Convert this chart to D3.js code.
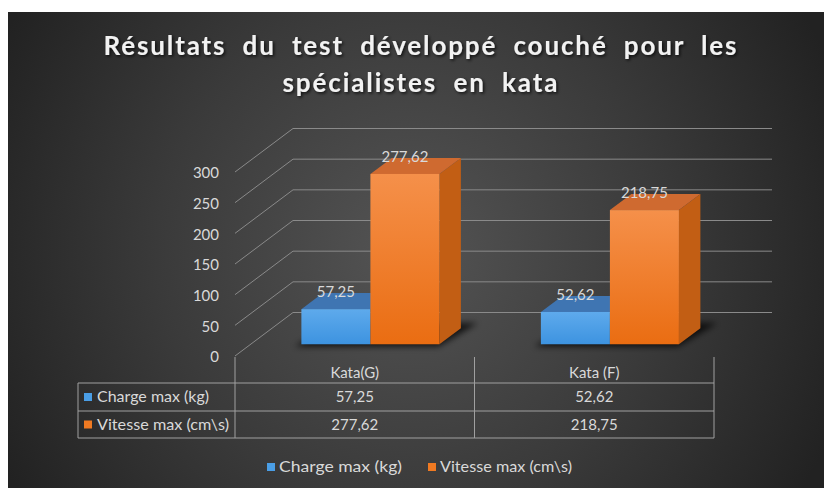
<!DOCTYPE html>
<html>
<head>
<meta charset="utf-8">
<script src="https://cdn.jsdelivr.net/npm/d3@7"></script>
<style>
  html, body { margin: 0; padding: 0; background: #ffffff; }
  svg { display: block; }
  text { font-family: Lato, "Open Sans", "Noto Sans", sans-serif; }
</style>
</head>
<body>
<div id="chart"></div>
<script>
// ---------- data ----------
const titleLines = ["Résultats du test développé couché pour les", "spécialistes en kata"];
const categories = ["Kata(G)", "Kata (F)"];
const seriesNames = ["Charge max (kg)", "Vitesse max (cm\\s)"];
const chargeMax = [57.25, 52.62];
const vitesseMax = [277.62, 218.75];
const yTicks = [0, 50, 100, 150, 200, 250, 300];
const seriesColors = ["#4a9ee6", "#f07a22"];

// ---------- setup ----------
const W = 824, H = 488;
const svg = d3.select("#chart").append("svg").attr("width", W).attr("height", H);
const defs = svg.append("defs");

const bg = defs.append("radialGradient").attr("id", "bg")
  .attr("gradientUnits", "userSpaceOnUse").attr("cx", 410).attr("cy", 250).attr("r", 460);
bg.append("stop").attr("offset", "0%").attr("stop-color", "#545454");
bg.append("stop").attr("offset", "55%").attr("stop-color", "#3a3a3a");
bg.append("stop").attr("offset", "100%").attr("stop-color", "#222222");

const ts = defs.append("filter").attr("id", "tshadow").attr("x", "-10%").attr("y", "-30%").attr("width", "120%").attr("height", "160%");
ts.append("feDropShadow").attr("dx", 1.5).attr("dy", 1.5).attr("stdDeviation", 1.5)
  .attr("flood-color", "#000").attr("flood-opacity", 0.75);

const blur = defs.append("filter").attr("id", "blur").attr("x", "-20%").attr("y", "-50%").attr("width", "140%").attr("height", "200%");
blur.append("feGaussianBlur").attr("stdDeviation", 3);

function vgrad(id, c1, c2) {
  const g = defs.append("linearGradient").attr("id", id).attr("x1", 0).attr("y1", 0).attr("x2", 0).attr("y2", 1);
  g.append("stop").attr("offset", "0%").attr("stop-color", c1);
  g.append("stop").attr("offset", "100%").attr("stop-color", c2);
}
vgrad("front0", "#5eaaec", "#3d93e0");
vgrad("front1", "#f5904a", "#ea6d12");

const faceColors = [
  { front: "url(#front0)", top: "#3f75b2", side: "#2f5f96" },
  { front: "url(#front1)", top: "#cf6a30", side: "#c25e14" }
];

svg.append("rect").attr("x", 8).attr("y", 12).attr("width", W - 8).attr("height", H - 12).attr("fill", "url(#bg)");

// ---------- title ----------
const title = svg.append("g").attr("filter", "url(#tshadow)");
const titleWidths = [633, 275];
titleLines.forEach((t, i) => {
  title.append("text")
    .attr("x", 420).attr("y", 55 + i * 37)
    .attr("text-anchor", "middle")
    .attr("fill", "#f2f2f2")
    .attr("font-size", 26).attr("font-weight", 700)
    .attr("word-spacing", 8)
    .attr("textLength", titleWidths[i]).attr("lengthAdjust", "spacing")
    .text(t);
});

// ---------- scales ----------
const yScale = d3.scaleLinear().domain([0, 300]).range([356, 172]);
const x0 = d3.scaleBand().domain(categories).range([235, 714]);
const x1 = d3.scaleBand().domain(seriesNames).range([0, x0.bandwidth()]).paddingOuter(0.735);
const depth = d3.scaleLinear().domain([0, 1]).range([0, 1]);
const DX = 58, DY = -43.5;
const proj = (x, v, f) => [x + DX * depth(f), yScale(v) + DY * depth(f)];

// ---------- walls / gridlines ----------
const grid = svg.append("g").attr("stroke", "#8a8a8a").attr("stroke-width", 1).attr("fill", "none");
yTicks.forEach(t => {
  const a = proj(x0.range()[0], t, 0), b = proj(x0.range()[0], t, 1), c = proj(x0.range()[1], t, 1);
  grid.append("path").attr("d", d3.line()([a, b, c]));
});

// y axis labels
const yAxis = d3.axisLeft(yScale).tickValues(yTicks).tickSize(0).tickPadding(16);
const yg = svg.append("g").attr("transform", `translate(${x0.range()[0]},1)`).call(yAxis);
yg.select(".domain").remove();
yg.selectAll("text").attr("fill", "#d9d9d9").attr("font-size", 15)
  .style("font-family", "Lato, 'Open Sans', sans-serif");

// ---------- bars ----------
const F0 = 0.27, F1 = 0.64;
const fmt = v => d3.format(".2f")(v).replace(".", ",");
const seriesValues = [chargeMax, vitesseMax];

const shadowG = svg.append("g").attr("filter", "url(#blur)");
const barsG = svg.append("g");
const labelsG = svg.append("g");

categories.forEach((cat, ci) => {
  const gx0 = x0(cat) + x1(seriesNames[0]);
  const gx1 = x0(cat) + x1(seriesNames[1]) + x1.bandwidth();
  const s = [proj(gx0 - 4, 0, F0 - 0.05), proj(gx1 + 2, 0, F0 - 0.05), proj(gx1 + 10, 0, F1 + 0.12), proj(gx0 + 6, 0, F1 + 0.12)];
  shadowG.append("polygon").attr("points", s.map(p => p.join(",")).join(" "))
    .attr("fill", "#000").attr("opacity", 0.75);

  seriesNames.forEach((sn, si) => {
    const v = seriesValues[si][ci];
    const bx = x0(cat) + x1(sn), w = x1.bandwidth();
    const fl = proj(bx, v, F0), fr = proj(bx + w, v, F0);
    const bl = proj(bx, v, F1), br = proj(bx + w, v, F1);
    const fr0 = proj(bx + w, 0, F0), br0 = proj(bx + w, 0, F1);
    const fl0 = proj(bx, 0, F0);
    const col = faceColors[si];
    barsG.append("polygon").attr("points", [fr, br, br0, fr0].map(p => p.join(",")).join(" ")).attr("fill", col.side);
    barsG.append("polygon").attr("points", [fl, fr, br, bl].map(p => p.join(",")).join(" ")).attr("fill", col.top);
    barsG.append("rect").attr("x", fl[0]).attr("y", fl[1]).attr("width", w).attr("height", fl0[1] - fl[1]).attr("fill", col.front);
    labelsG.append("text")
      .attr("x", fl[0] + w / 2).attr("y", fl[1] - 12)
      .attr("text-anchor", "middle").attr("fill", "#d9d9d9").attr("font-size", 15)
      .text(fmt(v));
  });
});

// ---------- data table ----------
const tLeft = 78, rowY = [383, 411, 438], headTop = 357;
const tbl = svg.append("g").attr("stroke", "#a0a0a0").attr("stroke-width", 1).attr("fill", "none");
rowY.forEach(y => tbl.append("line").attr("x1", tLeft).attr("x2", x0.range()[1]).attr("y1", y).attr("y2", y));
tbl.append("line").attr("x1", tLeft).attr("x2", tLeft).attr("y1", rowY[0]).attr("y2", rowY[2]);
[x0.range()[0], ...categories.map(c => x0(c) + x0.bandwidth())].forEach(x =>
  tbl.append("line").attr("x1", x).attr("x2", x).attr("y1", headTop).attr("y2", rowY[2]));

const txt = svg.append("g").attr("fill", "#d9d9d9").attr("font-size", 15);
categories.forEach(cat => {
  txt.append("text").attr("x", x0(cat) + x0.bandwidth() / 2).attr("y", 378).attr("text-anchor", "middle").text(cat);
});
seriesNames.forEach((sn, si) => {
  const cy = (rowY[si] + rowY[si + 1]) / 2;
  svg.append("rect").attr("x", 84).attr("y", cy - 4).attr("width", 8).attr("height", 8).attr("fill", seriesColors[si]);
  txt.append("text").attr("x", 97).attr("y", cy + 5).attr("textLength", si === 0 ? 112 : 132).attr("lengthAdjust", "spacingAndGlyphs").text(sn);
  categories.forEach((cat, ci) => {
    txt.append("text").attr("x", x0(cat) + x0.bandwidth() / 2).attr("y", cy + 5).attr("text-anchor", "middle").text(fmt(seriesValues[si][ci]));
  });
});

// ---------- legend ----------
const legendX = [267, 428];
const legend = svg.append("g");
seriesNames.forEach((sn, si) => {
  legend.append("rect").attr("x", legendX[si]).attr("y", 463).attr("width", 8).attr("height", 8).attr("fill", seriesColors[si]);
  legend.append("text").attr("x", legendX[si] + 12).attr("y", 472).attr("fill", "#d9d9d9").attr("font-size", 15)
    .attr("textLength", si === 0 ? 123 : 132).attr("lengthAdjust", "spacingAndGlyphs").text(sn);
});
</script>
</body>
</html>
